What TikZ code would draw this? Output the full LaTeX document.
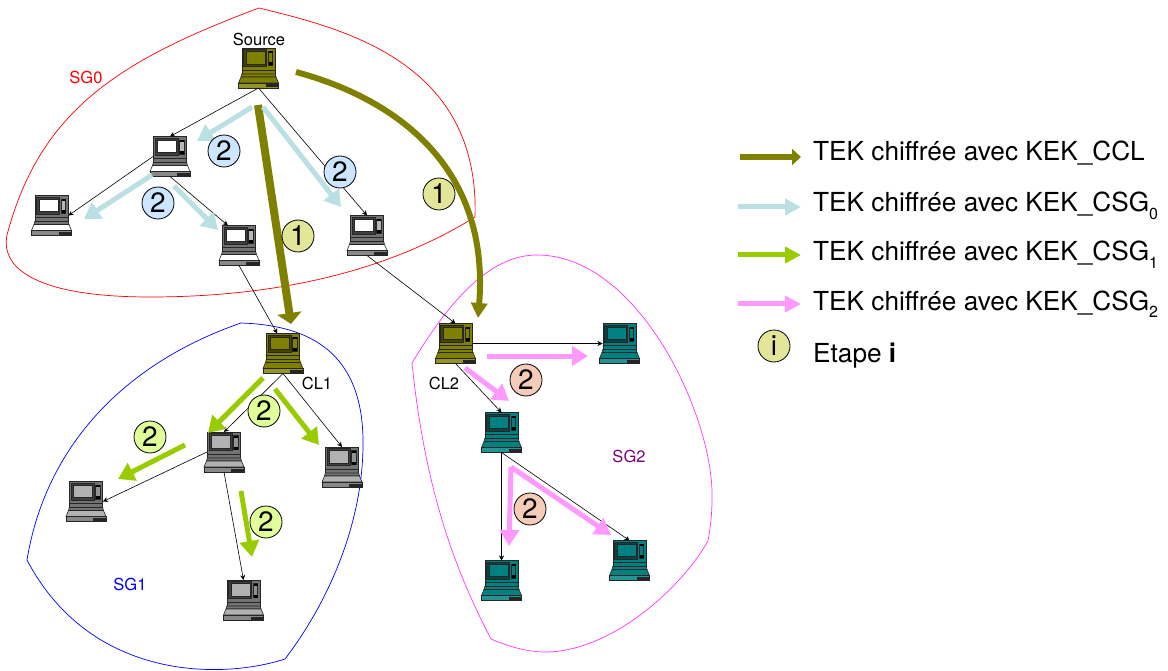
\documentclass[tikz,border=0pt]{standalone}
\usepackage{fontspec}
\setmainfont{TeX Gyre Heros}
\usetikzlibrary{arrows.meta,positioning}

\definecolor{tekolive}{HTML}{808000}
\definecolor{tekteal}{HTML}{008080}
\definecolor{tekblue}{HTML}{BBE0E3}
\definecolor{tekgreen}{HTML}{99CC00}
\definecolor{tekpink}{HTML}{FF99FF}
\definecolor{stepyellow}{HTML}{E3E699}
\definecolor{stepblue}{HTML}{CCE6FF}
\definecolor{steplime}{HTML}{E0FF99}
\definecolor{stepsalmon}{HTML}{F4CCB8}
\definecolor{sgmagenta}{HTML}{FF33FF}
\definecolor{sgpurple}{HTML}{800080}

\tikzset{
  laptopbox/.style={minimum width=40pt, minimum height=40pt, inner sep=0pt, outer sep=0pt},
  link/.style={black, line width=0.6pt, -{Stealth[length=5pt,width=5pt]}},
  tekccl/.style={tekolive, line width=6pt, -{Triangle[length=15pt,width=16pt]}},
  tekcsg/.style={line width=5pt, -{Triangle[length=16pt,width=19pt]}},
  stepnum/.style={circle, draw=black, line width=0.8pt, minimum size=32pt, inner sep=0pt, font=\fontsize{28}{30}\selectfont},
  sglabel/.style={font=\fontsize{16.5}{18}\selectfont, inner sep=0pt},
  keytext/.style={anchor=base west, inner sep=0pt, font=\fontsize{26.2}{30}\selectfont},
}

% laptop: name, position, lid, screen, keyboard
\newcommand{\laptop}[5]{%
  \node[laptopbox] (#1) at (#2) {};
  \colorlet{lapfront}{#3}
  \colorlet{lapkey}{#5}
  \begin{scope}[shift={(#2)}, draw=black!85, line width=0.6pt]
    \filldraw[fill=#3] (-16.7,-20) rectangle (16.7,6);
    \filldraw[fill=lapfront!55!black] (-15,-18.5) rectangle (8,-1.5);
    \filldraw[fill=#4] (-12.5,-16.5) rectangle (6.5,-4);
    \filldraw[fill=lapfront!50!lapkey] (9.5,-16.5) rectangle (14,-2.5);
    \fill[black] (10,-16.5) rectangle (14,-14.5);
    \fill[black] (10,-5.5) rectangle (14,-2.5);
    \draw (-16.7,2) -- (16.7,2);
    \filldraw[fill=#3] (-16.7,6) -- (16.7,6) -- (17.5,9) -- (-17.5,9) -- cycle;
    \filldraw[fill=#5] (-17.5,9) -- (17.5,9) -- (20,15) -- (-20,15) -- cycle;
    \filldraw[fill=lapfront!85!white] (-20,15) rectangle (20,20);
    \fill[black!85] (7,16.5) rectangle (19.5,19.5);
  \end{scope}}
% subscript of the legend
\newcommand{\keysub}[1]{\raisebox{-0.3em}{\fontsize{16}{18}\selectfont #1}}

\begin{document}
\begin{tikzpicture}[x=1pt, y=-1pt]
\useasboundingbox (0,0) rectangle (1168,671);

% Groups
\draw[red, line width=0.7pt] (259,8) .. controls (340,28) and (480,60) .. (475,217)
  .. controls (390,270) and (280,297) .. (150,297)
  .. controls (40,297) and (0,270) .. (7,235)
  .. controls (40,110) and (120,60) .. (259,8) -- cycle;
\draw[blue, line width=0.7pt] (241,323) .. controls (300,325) and (362,345) .. (363,440)
  .. controls (364,520) and (330,600) .. (285,659)
  .. controls (220,680) and (90,680) .. (27,560)
  .. controls (45,450) and (120,365) .. (241,323) -- cycle;
\draw[sgmagenta, line width=0.7pt] (412,363) .. controls (450,300) and (490,255) .. (537,255)
  .. controls (640,255) and (715,420) .. (712,500)
  .. controls (712,515) and (710,530) .. (708,541)
  .. controls (680,590) and (610,652) .. (545,652)
  .. controls (525,652) and (505,645) .. (491,639)
  .. controls (455,570) and (425,490) .. (412,363) -- cycle;

% Group labels
\node[sglabel, red] (sgzero) at (86,77) {SG0};
\node[sglabel, blue] (sgone) at (130,584) {SG1};
\node[sglabel, sgpurple] (sgtwo) at (629,456) {SG2};
\node[sglabel] (srclabel) at (259,39) {Source};
\node[sglabel] (cloneLabel) at (317,383) {CL1};
\node[sglabel] (cltwoLabel) at (444,383) {CL2};

% Laptops
\laptop{source}{258.5,68}{tekolive}{tekolive}{tekolive}
\laptop{cla}{283,353.5}{tekolive}{tekolive}{tekolive}
\laptop{clb}{455.5,343.5}{tekolive}{tekolive}{tekolive}
\foreach \nm/\pos in {ra/{170,156.5}, rb/{51.5,215.5}, rc/{239,245.5}, rd/{367,235.5}} {
  \laptop{\nm}{\pos}{black!55}{white}{white}
}
\foreach \nm/\pos in {ga/{224,452}, gb/{86,501.5}, gc/{342,467}, gd/{243.5,600}} {
  \laptop{\nm}{\pos}{black!55}{black!30}{black!30}
}
\foreach \nm/\pos in {ta/{619.5,343.5}, tb/{501.5,432.5}, tc/{501.5,580.5}, td/{629.5,560.5}} {
  \laptop{\nm}{\pos}{tekteal}{tekteal}{tekteal}
}

% Links
\draw[link] (source.south) -- (ra.north);
\draw[link] (source.south) -- (rd.north);
\draw[link] ([xshift=3pt]ra.west) -- ([xshift=-3pt]rb.east);
\draw[link] (ra.south) -- (rc.119);
\draw[link] (rc.south) -- (cla.106);
\draw[link] (rd.south) -- (clb.north);
\draw[link] (cla.south) -- (ga.north);
\draw[link] (cla.south) -- (gc.north);
\draw[link] ([xshift=3pt]ga.west) -- ([xshift=-3pt]gb.east);
\draw[link] (ga.south) -- (gd.north);
\draw[link] ([xshift=-3pt]clb.east) -- ([xshift=3pt]ta.west);
\draw[link] (clb.south) -- (tb.north);
\draw[link] (tb.south) -- (tc.north);
\draw[link] (tb.south) -- (td.north);

% Key transport arrows
\coordinate (ccla) at (258,105);
\coordinate (cclb) at (291,324);
\coordinate (cclc) at (296,72);
\coordinate (ccld) at (478,318);
\draw[tekccl, line width=8pt, -{Triangle[length=11pt,width=24pt]}] (ccla) -- (cclb);
\draw[tekccl] (cclc) .. controls (400,100) and (490,170) .. (ccld);
\foreach \nm/\a/\b/\col in {
    ba/{252,107}/{197,141}/tekblue, bb/{263,107}/{341,207}/tekblue,
    bc/{152,175}/{84,219}/tekblue, bd/{174,186}/{218,230}/tekblue,
    va/{263,378}/{208,433}/tekgreen, vb/{275,389}/{319,445}/tekgreen,
    vc/{185,445}/{118,479}/tekgreen, vd/{241,491}/{252,557}/tekgreen,
    pa/{487,356}/{588,356}/tekpink, pb/{465,368}/{509,401}/tekpink,
    pc/{511,467}/{509,546}/tekpink, pd/{511,467}/{611,535}/tekpink} {
  \coordinate (\nm s) at (\a);
  \coordinate (\nm t) at (\b);
  \draw[tekcsg, \col] (\nm s) -- (\nm t);
}

% Steps
\node[stepnum, fill=stepblue] (na) at (224,151) {2};
\node[stepnum, fill=stepblue] (nb) at (340,172) {2};
\node[stepnum, fill=stepblue] (nc) at (158,203) {2};
\node[stepnum, fill=stepyellow] (nd) at (298,236) {1};
\node[stepnum, fill=stepyellow] (ne) at (439,194) {1};
\node[stepnum, fill=steplime] (nf) at (264,411) {2};
\node[stepnum, fill=steplime] (ng) at (150,437) {2};
\node[stepnum, fill=steplime] (nh) at (266,522) {2};
\node[stepnum, fill=stepsalmon] (ni) at (526,380) {2};
\node[stepnum, fill=stepsalmon] (nj) at (530,509) {2};

% Legend
\coordinate (lga) at (740,157);
\coordinate (lgb) at (801,157);
\draw[tekccl, -{Triangle[length=9pt,width=16pt]}] (lga) -- (lgb);
\foreach \nm/\y/\col in {lgc/207/tekblue, lgd/255/tekgreen, lge/304/tekpink} {
  \coordinate (\nm s) at (738,\y);
  \coordinate (\nm t) at (801,\y);
  \draw[tekcsg, \col, -{Triangle[length=16pt,width=16pt]}] (\nm s) -- (\nm t);
}
\node[keytext] (keya) at (813,161) {TEK chiffrée avec KEK\_CCL};
\node[keytext] (keyb) at (813,212) {TEK chiffrée avec KEK\_CSG\keysub{0}};
\node[keytext] (keyc) at (813,261) {TEK chiffrée avec KEK\_CSG\keysub{1}};
\node[keytext] (keyd) at (813,310) {TEK chiffrée avec KEK\_CSG\keysub{2}};
\node[stepnum, fill=stepyellow] (keyi) at (774,346) {i};
\node[keytext] (keye) at (813,362) {Etape \textbf{i}};

\end{tikzpicture}
\end{document}
